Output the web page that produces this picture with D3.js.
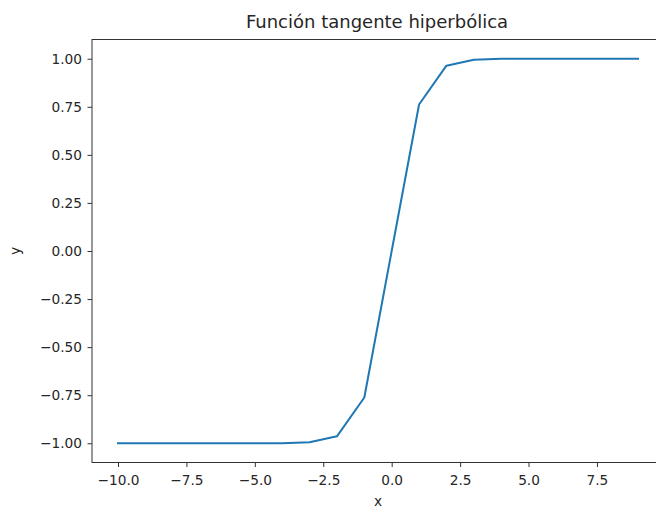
<!DOCTYPE html>
<meta charset="utf-8">
<head>
    <script type="text/javascript" src="https://cdn.jsdelivr.net/npm/d3@7"></script>
    <style>
        body { margin: 0; background: #fff; }
        text { font-family: "DejaVu Sans", sans-serif; fill: #262626; }
    </style>
    <title>Función tangente hiperbólica</title>
</head>
<body>
    <div id="chart"></div>
    <script type="text/javascript">
        // data
        var xs = [-10, -9, -8, -7, -6, -5, -4, -3, -2, -1, 0, 1, 2, 3, 4, 5, 6, 7, 8, 9];
        var ys = [-1.0, -1.0, -1.0, -1.0, -1.0, -0.9999, -0.9993, -0.995, -0.964, -0.762,
                  0.0, 0.762, 0.964, 0.995, 0.9993, 0.9999, 1.0, 1.0, 1.0, 1.0];
        var xTicks = [-10, -7.5, -5, -2.5, 0, 2.5, 5, 7.5];
        var yTicks = [-1, -0.75, -0.5, -0.25, 0, 0.25, 0.5, 0.75, 1];

        var w = 656, h = 508;
        var mLeft = 92, mRight = 664, mTop = 39.5, mBottom = 462.5;

        var svg = d3.select("#chart").append("svg")
                    .attr("width", w)
                    .attr("height", h);

        var x = d3.scaleLinear().domain([-10.95, 9.95]).range([mLeft, mRight]);
        var y = d3.scaleLinear().domain([-1.1, 1.1]).range([mBottom, mTop]);

        var xAxis = svg.append("g")
            .attr("transform", "translate(0," + mBottom + ")")
            .call(d3.axisBottom(x).tickValues(xTicks).tickSize(4.5).tickPadding(8)
                  .tickFormat(d3.format(".1f")));
        var yAxis = svg.append("g")
            .attr("transform", "translate(" + mLeft + ",0)")
            .call(d3.axisLeft(y).tickValues(yTicks).tickSize(4.5).tickPadding(5.5)
                  .tickFormat(d3.format(".2f")));

        [xAxis, yAxis].forEach(function(g) {
            g.select(".domain").remove();
            g.selectAll("line").attr("stroke", "#333").attr("stroke-width", 1);
            g.selectAll("text").style("font-size", "13.7px")
             .style("font-family", "DejaVu Sans").attr("fill", "#262626")
             .text(function(d) { return d3.select(this).text().replace("-", "\u2212"); });
        });

        // frame
        svg.append("rect")
            .attr("x", mLeft).attr("y", mTop)
            .attr("width", mRight - mLeft).attr("height", mBottom - mTop)
            .attr("fill", "none").attr("stroke", "#333").attr("stroke-width", 1);

        var pts = xs.map(function(d, i) { return [d, ys[i]]; });
        svg.append("path")
            .datum(pts)
            .attr("fill", "none")
            .attr("stroke", "#1f77b4")
            .attr("stroke-width", 2)
            .attr("stroke-linejoin", "round")
            .attr("stroke-linecap", "square")
            .attr("d", d3.line().x(function(d) { return x(d[0]); }).y(function(d) { return y(d[1]); }));

        svg.append("text")
            .attr("x", 377).attr("y", 28)
            .attr("text-anchor", "middle")
            .style("font-size", "18px")
            .text("Función tangente hiperbólica");

        svg.append("text")
            .attr("x", (mLeft + mRight) / 2).attr("y", 506)
            .attr("text-anchor", "middle")
            .style("font-size", "13.7px")
            .text("x");

        svg.append("text")
            .attr("transform", "translate(19.5," + ((mTop + mBottom) / 2) + ") rotate(-90)")
            .attr("text-anchor", "middle")
            .style("font-size", "13.7px")
            .text("y");
    </script>
</body>
</html>
